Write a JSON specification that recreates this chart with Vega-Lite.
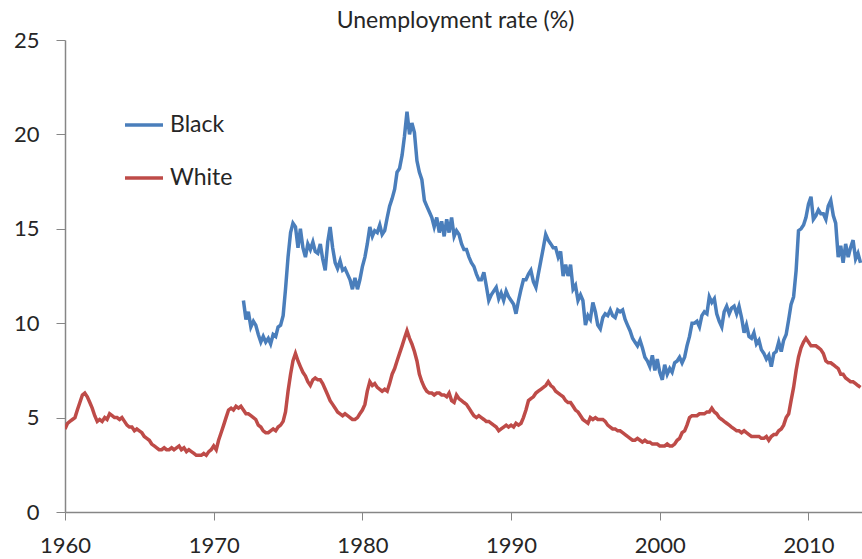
{
  "$schema": "https://vega.github.io/schema/vega-lite/v6.json",
  "autosize": {"type": "none"},
  "width": 797,
  "height": 472,
  "padding": {"left": 65, "top": 40, "right": 0, "bottom": 47},
  "background": "white",
  "title": {"text": "Unemployment rate (%)", "font": "Lato", "fontSize": 23, "fontWeight": "normal", "color": "#262626", "anchor": "middle", "frame": "group", "offset": -4, "dx": -8},
  "data": {"values": [
    {"year":1960.00,"White":4.4},{"year":1960.17,"White":4.7},{"year":1960.33,"White":4.8},{"year":1960.50,"White":4.9},{"year":1960.67,"White":5.0},{"year":1960.83,"White":5.4},
    {"year":1961.00,"White":5.8},{"year":1961.17,"White":6.2},{"year":1961.33,"White":6.3},{"year":1961.50,"White":6.1},{"year":1961.67,"White":5.8},{"year":1961.83,"White":5.5},
    {"year":1962.00,"White":5.1},{"year":1962.17,"White":4.8},{"year":1962.33,"White":4.9},{"year":1962.50,"White":4.8},{"year":1962.67,"White":5.0},{"year":1962.83,"White":4.9},
    {"year":1963.00,"White":5.2},{"year":1963.17,"White":5.1},{"year":1963.33,"White":5.0},{"year":1963.50,"White":5.0},{"year":1963.67,"White":4.9},{"year":1963.83,"White":5.0},
    {"year":1964.00,"White":4.8},{"year":1964.17,"White":4.6},{"year":1964.33,"White":4.5},{"year":1964.50,"White":4.5},{"year":1964.67,"White":4.3},{"year":1964.83,"White":4.4},
    {"year":1965.00,"White":4.3},{"year":1965.17,"White":4.2},{"year":1965.33,"White":4.0},{"year":1965.50,"White":3.9},{"year":1965.67,"White":3.8},{"year":1965.83,"White":3.6},
    {"year":1966.00,"White":3.5},{"year":1966.17,"White":3.4},{"year":1966.33,"White":3.3},{"year":1966.50,"White":3.3},{"year":1966.67,"White":3.4},{"year":1966.83,"White":3.3},
    {"year":1967.00,"White":3.3},{"year":1967.17,"White":3.4},{"year":1967.33,"White":3.3},{"year":1967.50,"White":3.4},{"year":1967.67,"White":3.5},{"year":1967.83,"White":3.3},
    {"year":1968.00,"White":3.4},{"year":1968.17,"White":3.2},{"year":1968.33,"White":3.3},{"year":1968.50,"White":3.2},{"year":1968.67,"White":3.1},{"year":1968.83,"White":3.0},
    {"year":1969.00,"White":3.0},{"year":1969.17,"White":3.0},{"year":1969.33,"White":3.1},{"year":1969.50,"White":3.0},{"year":1969.67,"White":3.2},{"year":1969.83,"White":3.3},
    {"year":1970.00,"White":3.5},{"year":1970.17,"White":3.3},{"year":1970.33,"White":3.8},{"year":1970.50,"White":4.2},{"year":1970.67,"White":4.6},{"year":1970.83,"White":5.0},
    {"year":1971.00,"White":5.4},{"year":1971.17,"White":5.5},{"year":1971.33,"White":5.4},{"year":1971.50,"White":5.6},{"year":1971.67,"White":5.5},{"year":1971.83,"White":5.6},
    {"year":1972.00,"White":5.4,"Black":11.2},{"year":1972.17,"White":5.2,"Black":10.2},{"year":1972.33,"White":5.2,"Black":10.6},{"year":1972.50,"White":5.1,"Black":9.8},{"year":1972.67,"White":5.0,"Black":10.1},{"year":1972.83,"White":4.9,"Black":9.9},
    {"year":1973.00,"White":4.6,"Black":9.4},{"year":1973.17,"White":4.5,"Black":9.0},{"year":1973.33,"White":4.3,"Black":9.3},{"year":1973.50,"White":4.2,"Black":9.0},{"year":1973.67,"White":4.2,"Black":9.2},{"year":1973.83,"White":4.3,"Black":8.9},
    {"year":1974.00,"White":4.4,"Black":9.4},{"year":1974.17,"White":4.3,"Black":9.3},{"year":1974.33,"White":4.5,"Black":9.8},{"year":1974.50,"White":4.6,"Black":9.9},{"year":1974.67,"White":4.8,"Black":10.4},{"year":1974.83,"White":5.3,"Black":11.8},
    {"year":1975.00,"White":6.4,"Black":13.5},{"year":1975.17,"White":7.3,"Black":14.8},{"year":1975.33,"White":8.0,"Black":15.3},{"year":1975.50,"White":8.4,"Black":15.1},{"year":1975.67,"White":8.0,"Black":14.0},{"year":1975.83,"White":7.7,"Black":15.0},
    {"year":1976.00,"White":7.4,"Black":14.0},{"year":1976.17,"White":7.2,"Black":13.5},{"year":1976.33,"White":6.9,"Black":14.2},{"year":1976.50,"White":6.7,"Black":13.9},{"year":1976.67,"White":7.0,"Black":14.3},{"year":1976.83,"White":7.1,"Black":13.8},
    {"year":1977.00,"White":7.0,"Black":13.7},{"year":1977.17,"White":7.0,"Black":14.2},{"year":1977.33,"White":6.8,"Black":13.4},{"year":1977.50,"White":6.5,"Black":12.8},{"year":1977.67,"White":6.2,"Black":14.3},{"year":1977.83,"White":5.9,"Black":15.1},
    {"year":1978.00,"White":5.7,"Black":14.0},{"year":1978.17,"White":5.5,"Black":13.2},{"year":1978.33,"White":5.3,"Black":12.9},{"year":1978.50,"White":5.2,"Black":13.3},{"year":1978.67,"White":5.1,"Black":12.8},{"year":1978.83,"White":5.2,"Black":12.9},
    {"year":1979.00,"White":5.1,"Black":12.6},{"year":1979.17,"White":5.0,"Black":12.3},{"year":1979.33,"White":4.9,"Black":11.8},{"year":1979.50,"White":4.9,"Black":12.4},{"year":1979.67,"White":5.0,"Black":11.8},{"year":1979.83,"White":5.2,"Black":12.3},
    {"year":1980.00,"White":5.4,"Black":13.0},{"year":1980.17,"White":5.7,"Black":13.5},{"year":1980.33,"White":6.4,"Black":14.2},{"year":1980.50,"White":6.9,"Black":15.1},{"year":1980.67,"White":6.7,"Black":14.6},{"year":1980.83,"White":6.8,"Black":14.9},
    {"year":1981.00,"White":6.6,"Black":14.8},{"year":1981.17,"White":6.5,"Black":15.2},{"year":1981.33,"White":6.4,"Black":14.7},{"year":1981.50,"White":6.5,"Black":14.9},{"year":1981.67,"White":6.4,"Black":15.6},{"year":1981.83,"White":6.8,"Black":16.2},
    {"year":1982.00,"White":7.3,"Black":16.6},{"year":1982.17,"White":7.6,"Black":17.1},{"year":1982.33,"White":8.0,"Black":18.0},{"year":1982.50,"White":8.4,"Black":18.2},{"year":1982.67,"White":8.8,"Black":18.9},{"year":1982.83,"White":9.2,"Black":19.9},
    {"year":1983.00,"White":9.6,"Black":21.2},{"year":1983.17,"White":9.2,"Black":20.0},{"year":1983.33,"White":8.9,"Black":20.6},{"year":1983.50,"White":8.5,"Black":20.1},{"year":1983.67,"White":8.0,"Black":18.6},{"year":1983.83,"White":7.3,"Black":18.0},
    {"year":1984.00,"White":6.9,"Black":17.6},{"year":1984.17,"White":6.6,"Black":16.5},{"year":1984.33,"White":6.4,"Black":16.2},{"year":1984.50,"White":6.3,"Black":15.9},{"year":1984.67,"White":6.3,"Black":15.6},{"year":1984.83,"White":6.2,"Black":15.1},
    {"year":1985.00,"White":6.3,"Black":15.6},{"year":1985.17,"White":6.3,"Black":14.8},{"year":1985.33,"White":6.2,"Black":15.4},{"year":1985.50,"White":6.2,"Black":14.6},{"year":1985.67,"White":6.1,"Black":15.5},{"year":1985.83,"White":6.3,"Black":14.8},
    {"year":1986.00,"White":5.9,"Black":15.6},{"year":1986.17,"White":5.8,"Black":14.6},{"year":1986.33,"White":6.2,"Black":14.9},{"year":1986.50,"White":6.0,"Black":14.7},{"year":1986.67,"White":5.9,"Black":14.2},{"year":1986.83,"White":5.8,"Black":13.9},
    {"year":1987.00,"White":5.7,"Black":13.9},{"year":1987.17,"White":5.5,"Black":13.5},{"year":1987.33,"White":5.3,"Black":13.2},{"year":1987.50,"White":5.1,"Black":13.0},{"year":1987.67,"White":5.0,"Black":12.6},{"year":1987.83,"White":5.1,"Black":12.3},
    {"year":1988.00,"White":5.0,"Black":12.3},{"year":1988.17,"White":4.9,"Black":12.7},{"year":1988.33,"White":4.8,"Black":12.0},{"year":1988.50,"White":4.8,"Black":11.2},{"year":1988.67,"White":4.7,"Black":11.5},{"year":1988.83,"White":4.6,"Black":11.7},
    {"year":1989.00,"White":4.5,"Black":11.9},{"year":1989.17,"White":4.3,"Black":11.3},{"year":1989.33,"White":4.4,"Black":11.6},{"year":1989.50,"White":4.5,"Black":11.2},{"year":1989.67,"White":4.6,"Black":11.7},{"year":1989.83,"White":4.5,"Black":11.4},
    {"year":1990.00,"White":4.6,"Black":11.2},{"year":1990.17,"White":4.5,"Black":11.0},{"year":1990.33,"White":4.7,"Black":10.5},{"year":1990.50,"White":4.6,"Black":11.2},{"year":1990.67,"White":4.7,"Black":11.8},{"year":1990.83,"White":5.0,"Black":12.3},
    {"year":1991.00,"White":5.4,"Black":12.3},{"year":1991.17,"White":5.9,"Black":12.6},{"year":1991.33,"White":6.0,"Black":12.8},{"year":1991.50,"White":6.1,"Black":12.2},{"year":1991.67,"White":6.3,"Black":11.9},{"year":1991.83,"White":6.4,"Black":12.6},
    {"year":1992.00,"White":6.5,"Black":13.3},{"year":1992.17,"White":6.6,"Black":14.0},{"year":1992.33,"White":6.7,"Black":14.7},{"year":1992.50,"White":6.9,"Black":14.4},{"year":1992.67,"White":6.7,"Black":14.2},{"year":1992.83,"White":6.6,"Black":14.0},
    {"year":1993.00,"White":6.4,"Black":14.0},{"year":1993.17,"White":6.3,"Black":13.5},{"year":1993.33,"White":6.2,"Black":13.8},{"year":1993.50,"White":6.1,"Black":12.5},{"year":1993.67,"White":5.9,"Black":13.1},{"year":1993.83,"White":5.8,"Black":12.5},
    {"year":1994.00,"White":5.8,"Black":13.1},{"year":1994.17,"White":5.6,"Black":11.8},{"year":1994.33,"White":5.4,"Black":12.0},{"year":1994.50,"White":5.3,"Black":11.2},{"year":1994.67,"White":5.1,"Black":11.5},{"year":1994.83,"White":4.9,"Black":11.2},
    {"year":1995.00,"White":4.8,"Black":9.9},{"year":1995.17,"White":4.7,"Black":10.4},{"year":1995.33,"White":5.0,"Black":10.2},{"year":1995.50,"White":4.9,"Black":11.1},{"year":1995.67,"White":5.0,"Black":10.6},{"year":1995.83,"White":4.9,"Black":9.9},
    {"year":1996.00,"White":4.9,"Black":9.7},{"year":1996.17,"White":4.9,"Black":10.3},{"year":1996.33,"White":4.8,"Black":10.5},{"year":1996.50,"White":4.6,"Black":10.4},{"year":1996.67,"White":4.5,"Black":10.7},{"year":1996.83,"White":4.4,"Black":10.4},
    {"year":1997.00,"White":4.4,"Black":10.3},{"year":1997.17,"White":4.3,"Black":10.7},{"year":1997.33,"White":4.3,"Black":10.6},{"year":1997.50,"White":4.2,"Black":10.7},{"year":1997.67,"White":4.1,"Black":10.2},{"year":1997.83,"White":4.0,"Black":9.9},
    {"year":1998.00,"White":3.9,"Black":9.6},{"year":1998.17,"White":3.8,"Black":9.2},{"year":1998.33,"White":3.8,"Black":9.0},{"year":1998.50,"White":3.9,"Black":8.8},{"year":1998.67,"White":3.8,"Black":9.1},{"year":1998.83,"White":3.7,"Black":8.7},
    {"year":1999.00,"White":3.8,"Black":8.2},{"year":1999.17,"White":3.7,"Black":8.0},{"year":1999.33,"White":3.7,"Black":7.7},{"year":1999.50,"White":3.6,"Black":8.3},{"year":1999.67,"White":3.6,"Black":7.5},{"year":1999.83,"White":3.6,"Black":8.1},
    {"year":2000.00,"White":3.5,"Black":7.4},{"year":2000.17,"White":3.5,"Black":7.0},{"year":2000.33,"White":3.5,"Black":7.8},{"year":2000.50,"White":3.6,"Black":7.3},{"year":2000.67,"White":3.5,"Black":7.6},{"year":2000.83,"White":3.5,"Black":7.4},
    {"year":2001.00,"White":3.6,"Black":7.9},{"year":2001.17,"White":3.8,"Black":8.0},{"year":2001.33,"White":3.9,"Black":8.2},{"year":2001.50,"White":4.2,"Black":7.9},{"year":2001.67,"White":4.3,"Black":8.2},{"year":2001.83,"White":4.6,"Black":8.8},
    {"year":2002.00,"White":5.0,"Black":9.3},{"year":2002.17,"White":5.1,"Black":10.0},{"year":2002.33,"White":5.1,"Black":10.0},{"year":2002.50,"White":5.1,"Black":10.1},{"year":2002.67,"White":5.2,"Black":9.8},{"year":2002.83,"White":5.2,"Black":10.4},
    {"year":2003.00,"White":5.2,"Black":10.6},{"year":2003.17,"White":5.3,"Black":10.5},{"year":2003.33,"White":5.3,"Black":11.4},{"year":2003.50,"White":5.5,"Black":11.1},{"year":2003.67,"White":5.3,"Black":11.3},{"year":2003.83,"White":5.2,"Black":10.5},
    {"year":2004.00,"White":5.0,"Black":10.1},{"year":2004.17,"White":4.9,"Black":9.8},{"year":2004.33,"White":4.8,"Black":10.6},{"year":2004.50,"White":4.7,"Black":10.9},{"year":2004.67,"White":4.6,"Black":10.5},{"year":2004.83,"White":4.5,"Black":10.8},
    {"year":2005.00,"White":4.4,"Black":10.9},{"year":2005.17,"White":4.3,"Black":10.5},{"year":2005.33,"White":4.3,"Black":10.9},{"year":2005.50,"White":4.2,"Black":10.3},{"year":2005.67,"White":4.3,"Black":9.5},{"year":2005.83,"White":4.2,"Black":9.9},
    {"year":2006.00,"White":4.1,"Black":9.3},{"year":2006.17,"White":4.0,"Black":9.2},{"year":2006.33,"White":4.0,"Black":9.5},{"year":2006.50,"White":4.0,"Black":8.9},{"year":2006.67,"White":4.0,"Black":9.1},{"year":2006.83,"White":3.9,"Black":8.6},
    {"year":2007.00,"White":3.9,"Black":8.4},{"year":2007.17,"White":4.0,"Black":8.1},{"year":2007.33,"White":3.8,"Black":8.3},{"year":2007.50,"White":4.0,"Black":7.7},{"year":2007.67,"White":4.1,"Black":8.4},{"year":2007.83,"White":4.1,"Black":8.5},
    {"year":2008.00,"White":4.3,"Black":9.0},{"year":2008.17,"White":4.4,"Black":8.5},{"year":2008.33,"White":4.6,"Black":9.1},{"year":2008.50,"White":5.0,"Black":9.4},{"year":2008.67,"White":5.2,"Black":10.2},{"year":2008.83,"White":5.9,"Black":11.0},
    {"year":2009.00,"White":6.6,"Black":11.4},{"year":2009.17,"White":7.5,"Black":12.8},{"year":2009.33,"White":8.2,"Black":14.9},{"year":2009.50,"White":8.7,"Black":15.0},{"year":2009.67,"White":9.0,"Black":15.2},{"year":2009.83,"White":9.2,"Black":15.6},
    {"year":2010.00,"White":9.0,"Black":16.3},{"year":2010.17,"White":8.8,"Black":16.7},{"year":2010.33,"White":8.8,"Black":15.5},{"year":2010.50,"White":8.8,"Black":15.7},{"year":2010.67,"White":8.7,"Black":16.0},{"year":2010.83,"White":8.6,"Black":15.8},
    {"year":2011.00,"White":8.4,"Black":15.8},{"year":2011.17,"White":8.0,"Black":15.5},{"year":2011.33,"White":7.9,"Black":16.2},{"year":2011.50,"White":7.9,"Black":16.5},{"year":2011.67,"White":7.8,"Black":15.7},{"year":2011.83,"White":7.7,"Black":15.3},
    {"year":2012.00,"White":7.6,"Black":13.5},{"year":2012.17,"White":7.3,"Black":14.1},{"year":2012.33,"White":7.3,"Black":13.2},{"year":2012.50,"White":7.1,"Black":14.2},{"year":2012.67,"White":7.0,"Black":13.5},{"year":2012.83,"White":6.9,"Black":14.0},
    {"year":2013.00,"White":6.9,"Black":14.4},{"year":2013.17,"White":6.8,"Black":13.4},{"year":2013.33,"White":6.7,"Black":13.7},{"year":2013.50,"White":6.6,"Black":13.2}
  ]},
  "transform": [{"fold": ["Black", "White"], "as": ["group", "rate"]}],
  "mark": {"type": "line", "strokeWidth": 3.5, "clip": true},
  "encoding": {
    "x": {"field": "year", "type": "quantitative", "scale": {"domain": [1960, 2013.6], "nice": false, "zero": false},
      "axis": {"title": null, "values": [1960, 1970, 1980, 1990, 2000, 2010], "format": "d", "grid": false, "domainColor": "#868686", "tickColor": "#868686", "tickSize": 8, "labelPadding": 15, "labelFont": "Lato", "labelFontSize": 22, "labelColor": "#262626", "labelFlush": false}},
    "y": {"field": "rate", "type": "quantitative", "scale": {"domain": [0, 25], "nice": false},
      "axis": {"title": null, "values": [0, 5, 10, 15, 20, 25], "grid": false, "domainColor": "#868686", "tickColor": "#868686", "tickSize": 9, "labelPadding": 17, "labelFont": "Lato", "labelFontSize": 22, "labelColor": "#262626"}},
    "color": {"field": "group", "type": "nominal", "scale": {"domain": ["Black", "White"], "range": ["#4A7EBB", "#BE4B48"]},
      "legend": {"title": null, "orient": "none", "legendX": 58, "legendY": 64, "padding": 0, "symbolType": "stroke", "symbolSize": 1444, "symbolStrokeWidth": 3.5, "labelFont": "Lato", "labelFontSize": 23, "labelColor": "#262626", "labelOffset": 5, "rowPadding": 20}}
  },
  "config": {"view": {"stroke": null}, "axis": {"domainWidth": 1.5}}
}
